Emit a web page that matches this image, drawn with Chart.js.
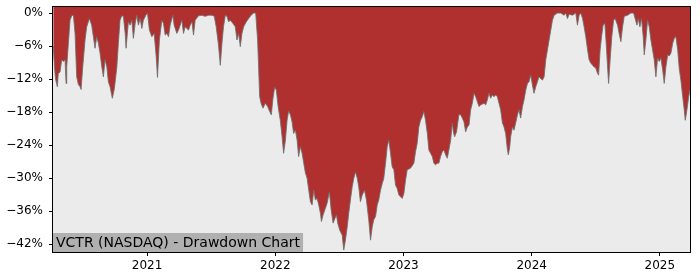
<!DOCTYPE html>
<html>
<head>
<meta charset="utf-8">
<script src="https://cdn.jsdelivr.net/npm/chart.js@4"></script>
<style>
html,body{margin:0;padding:0;background:#fff;}
#c{display:block;}
</style>
</head>
<body>
<canvas id="c" width="700" height="280"></canvas>
<script>
// Decimal-year dates
const dates = [
2020.268,2020.278,2020.286,2020.300,2020.307,2020.321,2020.334,2020.346,2020.360,2020.368,
2020.373,2020.386,2020.399,2020.412,2020.425,2020.438,2020.451,2020.464,2020.477,2020.485,
2020.498,2020.516,2020.529,2020.550,2020.568,2020.581,2020.594,2020.607,2020.620,2020.633,
2020.647,2020.659,2020.672,2020.686,2020.698,2020.711,2020.729,2020.745,2020.764,2020.776,
2020.789,2020.803,2020.815,2020.829,2020.836,2020.846,2020.854,2020.868,2020.881,2020.893,
2020.907,2020.920,2020.932,2020.946,2020.959,2020.971,2020.990,2021.003,2021.018,2021.037,
2021.055,2021.071,2021.081,2021.096,2021.115,2021.128,2021.141,2021.154,2021.167,2021.180,
2021.201,2021.211,2021.232,2021.245,2021.271,2021.284,2021.297,2021.323,2021.336,2021.350,
2021.362,2021.375,2021.401,2021.428,2021.453,2021.479,2021.506,2021.524,2021.539,2021.557,
2021.571,2021.584,2021.596,2021.610,2021.623,2021.636,2021.649,2021.670,2021.688,2021.701,
2021.714,2021.727,2021.740,2021.753,2021.774,2021.792,2021.811,2021.831,2021.847,2021.862,
2021.870,2021.878,2021.889,2021.904,2021.922,2021.940,2021.956,2021.969,2021.982,2021.995,
2022.008,2022.022,2022.039,2022.053,2022.065,2022.079,2022.092,2022.104,2022.118,2022.131,
2022.143,2022.157,2022.170,2022.182,2022.196,2022.209,2022.222,2022.235,2022.248,2022.261,
2022.274,2022.287,2022.300,2022.313,2022.326,2022.339,2022.352,2022.360,2022.373,2022.391,
2022.404,2022.422,2022.436,2022.451,2022.461,2022.477,2022.487,2022.503,2022.522,2022.534,
2022.547,2022.561,2022.573,2022.586,2022.600,2022.612,2022.625,2022.639,2022.651,2022.664,
2022.678,2022.696,2022.711,2022.729,2022.743,2022.756,2022.768,2022.782,2022.795,2022.807,
2022.821,2022.834,2022.846,2022.860,2022.873,2022.886,2022.899,2022.912,2022.925,2022.938,
2022.951,2022.964,2022.977,2022.990,2023.003,2023.016,2023.029,2023.055,2023.081,2023.094,
2023.107,2023.120,2023.133,2023.147,2023.159,2023.172,2023.186,2023.198,2023.211,2023.225,
2023.237,2023.250,2023.264,2023.276,2023.289,2023.303,2023.315,2023.329,2023.342,2023.354,
2023.368,2023.381,2023.389,2023.399,2023.414,2023.432,2023.446,2023.459,2023.472,2023.485,
2023.498,2023.511,2023.524,2023.537,2023.550,2023.563,2023.576,2023.589,2023.602,2023.628,
2023.641,2023.654,2023.667,2023.680,2023.693,2023.706,2023.719,2023.732,2023.745,2023.758,
2023.772,2023.784,2023.797,2023.811,2023.818,2023.829,2023.836,2023.850,2023.862,2023.875,
2023.889,2023.901,2023.914,2023.928,2023.940,2023.954,2023.967,2023.979,2023.993,2024.006,
2024.018,2024.032,2024.045,2024.057,2024.071,2024.084,2024.097,2024.110,2024.123,2024.136,
2024.149,2024.162,2024.175,2024.201,2024.227,2024.253,2024.266,2024.279,2024.292,2024.318,
2024.344,2024.357,2024.370,2024.383,2024.397,2024.409,2024.422,2024.436,2024.448,2024.461,
2024.475,2024.487,2024.500,2024.514,2024.522,2024.534,2024.545,2024.557,2024.571,2024.581,
2024.592,2024.600,2024.612,2024.625,2024.639,2024.651,2024.670,2024.682,2024.696,2024.709,
2024.722,2024.748,2024.774,2024.795,2024.807,2024.821,2024.831,2024.844,2024.857,2024.870,
2024.878,2024.891,2024.904,2024.917,2024.930,2024.943,2024.956,2024.969,2024.982,2024.995,
2025.008,2025.022,2025.034,2025.047,2025.061,2025.073,2025.086,2025.100,2025.112,2025.125,
2025.139,2025.151,2025.164,2025.178,2025.190,2025.198,2025.211,2025.225,2025.235
];
// Drawdown, percent
const drawdown = [
-6.0,-10.0,-12.0,-13.4,-11.0,-10.7,-8.5,-8.8,-8.5,-12.8,
-9.8,-5.5,-1.3,-0.5,-0.4,-3.7,-11.6,-13.0,-13.4,-13.9,
-9.8,-4.9,-2.5,-1.0,-2.2,-4.3,-6.4,-4.3,-5.5,-7.3,
-9.8,-11.6,-8.5,-9.8,-12.5,-13.4,-15.5,-13.7,-9.8,-5.5,
-1.3,-0.5,-0.6,-3.7,-6.4,-3.7,-1.6,-2.2,-1.3,-4.6,
-1.9,-0.4,-2.2,-1.0,-2.8,-1.3,-0.4,0.0,-3.1,-4.3,
-3.7,-7.9,-11.7,-4.9,-1.3,-1.9,-4.0,-3.7,-4.3,-2.2,
-0.4,-2.2,-3.7,-3.1,-1.3,-3.7,-2.5,-3.1,-2.2,-1.6,
-4.0,-1.3,-0.5,-0.4,-0.6,-0.4,-0.4,-0.6,-2.5,-5.8,
-9.5,-5.5,-2.5,-0.4,-0.6,-1.6,-1.3,-1.9,-2.5,-4.9,
-3.7,-6.1,-3.7,-2.5,-1.6,-1.0,-0.4,0.0,0.0,-4.9,
-9.8,-15.2,-16.4,-17.3,-16.4,-17.0,-17.9,-18.5,-15.5,-13.5,
-14.0,-17.0,-19.5,-22.5,-25.5,-23.1,-19.5,-17.8,-18.5,-19.8,
-21.9,-21.3,-23.1,-26.1,-24.3,-25.5,-27.3,-29.1,-30.0,-32.2,
-34.3,-34.9,-32.2,-34.0,-33.7,-34.9,-36.4,-37.9,-36.7,-35.5,
-34.6,-32.5,-35.8,-38.2,-37.6,-36.7,-38.2,-39.5,-40.4,-43.1,
-41.3,-38.9,-36.4,-34.0,-31.6,-30.1,-28.9,-30.0,-31.6,-34.3,
-33.1,-32.2,-34.0,-37.6,-41.3,-38.9,-37.6,-37.0,-34.9,-34.0,
-32.2,-31.0,-30.1,-27.3,-24.3,-23.1,-25.5,-28.0,-28.5,-31.3,
-31.9,-33.1,-33.4,-33.7,-32.8,-30.4,-28.5,-28.2,-27.3,-25.2,
-23.7,-20.7,-19.5,-18.8,-17.9,-19.5,-21.9,-24.9,-25.5,-26.1,
-27.3,-27.6,-27.3,-27.3,-26.1,-25.2,-24.9,-25.8,-26.4,-24.9,
-23.1,-20.0,-21.6,-22.5,-21.6,-18.5,-18.5,-19.1,-19.8,-21.6,
-20.7,-20.4,-17.6,-16.4,-14.6,-15.2,-16.1,-17.0,-16.7,-16.4,
-16.7,-15.8,-14.6,-15.5,-14.9,-15.2,-14.9,-15.2,-16.4,-17.6,
-20.0,-20.7,-21.9,-24.9,-25.8,-24.3,-22.5,-20.7,-21.3,-20.0,
-18.5,-17.6,-19.1,-17.0,-15.8,-14.0,-12.8,-12.5,-11.3,-13.1,
-14.6,-13.4,-12.5,-11.6,-11.9,-12.2,-11.6,-8.5,-6.7,-4.9,
-3.1,-1.3,-0.4,0.0,0.0,-0.4,0.0,-1.0,-0.2,-0.4,
0.0,-2.2,-0.4,0.0,-1.0,-2.5,-4.3,-6.7,-8.5,-9.1,
-9.5,-9.8,-10.0,-11.0,-11.3,-6.7,-4.3,-2.2,-1.9,-5.5,
-9.8,-12.8,-8.5,-4.3,-1.3,-1.0,-2.2,-3.7,-5.2,-2.5,
-0.6,-0.4,0.0,0.0,-1.0,-2.2,-1.0,-2.5,-1.0,-4.3,
-7.6,-4.9,-1.3,-2.5,-4.9,-6.7,-8.5,-11.6,-8.2,-8.8,
-8.2,-10.4,-12.8,-9.8,-7.6,-7.8,-7.3,-5.5,-4.6,-4.3,
-6.7,-10.1,-12.2,-15.2,-17.6,-19.5,-17.6,-15.2,-14.0
];
const yTicks = [0,-6,-12,-18,-24,-30,-36,-42];
const xTicks = [2021,2022,2023,2024,2025];
const titleText = 'VCTR (NASDAQ) - Drawdown Chart';

const points = dates.map((d,i)=>({x:d,y:drawdown[i]}));

const framePlugin = {
  id:'frame',
  beforeDatasetsDraw(chart){
    const a=chart.chartArea, ctx=chart.ctx;
    ctx.save();
    ctx.fillStyle='#ebebeb';
    ctx.fillRect(a.left,a.top,a.right-a.left,a.bottom-a.top);
    ctx.restore();
  },
  afterDatasetsDraw(chart){
    const a=chart.chartArea, ctx=chart.ctx;
    ctx.save();
    ctx.font='14px "DejaVu Sans"';
    const w=ctx.measureText(titleText).width;
    ctx.fillStyle='#b0b0b0';
    ctx.fillRect(a.left, 233, w+6, a.bottom-233);
    ctx.fillStyle='#000';
    ctx.textBaseline='alphabetic';
    ctx.textAlign='left';
    ctx.fillText(titleText, a.left+3, 247);
    ctx.restore();
  },
  afterDraw(chart){
    const a=chart.chartArea, ctx=chart.ctx;
    ctx.save();
    ctx.strokeStyle='#000';
    ctx.lineWidth=1;
    ctx.strokeRect(Math.round(a.left)-0.5,Math.round(a.top)-0.5,Math.round(a.right-a.left)+1,Math.round(a.bottom-a.top)+1);
    ctx.restore();
  }
};

Chart.defaults.font.family='"DejaVu Sans"';
Chart.defaults.font.size=12;
Chart.defaults.color='#000';

new Chart(document.getElementById('c'),{
  type:'line',
  data:{datasets:[{
    data:points,
    borderColor:'rgba(110,110,110,0.85)',
    borderWidth:1,
    backgroundColor:'#b03030',
    fill:'end',
    pointRadius:0,
    tension:0
  }]},
  options:{
    responsive:false,
    animation:false,
    layout:{padding:{top:7,right:10,left:0,bottom:0}},
    plugins:{legend:{display:false},tooltip:{enabled:false}},
    scales:{
      x:{
        type:'linear',
        min:2020.266,max:2025.235,
        afterBuildTicks(s){s.ticks=xTicks.map(v=>({value:v}));},
        afterFit(s){s.height=28;s.paddingLeft=0;s.paddingRight=0;},
        ticks:{callback:v=>String(v),padding:3,maxRotation:0,autoSkip:false},
        grid:{drawOnChartArea:false,tickLength:4,color:'#000'},
        border:{display:false}
      },
      y:{
        min:-43.45,max:1.1,
        afterBuildTicks(s){s.ticks=yTicks.map(v=>({value:v}));},
        afterFit(s){s.width=53;s.paddingTop=0;s.paddingBottom=0;},
        ticks:{callback:v=>(v<0?'\u2212':'')+Math.abs(v)+'%',padding:6,autoSkip:false},
        grid:{drawOnChartArea:false,tickLength:4,color:'#000'},
        border:{display:false}
      }
    }
  },
  plugins:[framePlugin]
});
</script>
</body>
</html>
